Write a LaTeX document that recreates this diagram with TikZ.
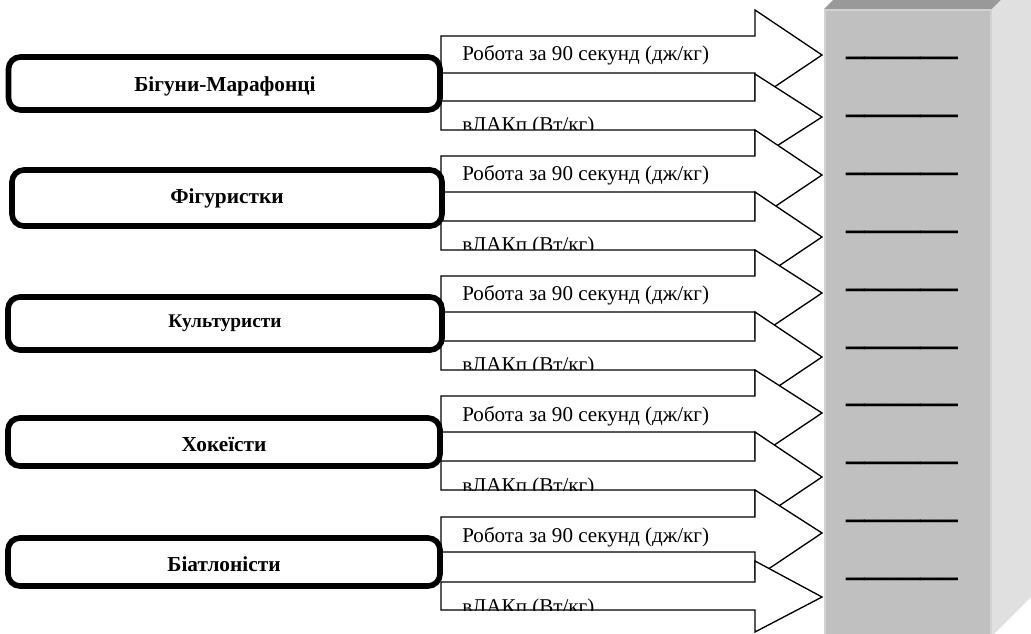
\documentclass[tikz,border=0pt]{standalone}
\usepackage{fontspec}
\setmainfont{Liberation Serif}
\tikzset{
  arrowshape/.style={draw=black, fill=white, line width=1pt, line join=miter},
  groupbox/.style={draw=black, fill=white, line width=4.2pt, rounded corners=9pt},
  grouplabel/.style={font=\fontsize{16}{19}\selectfont\bfseries, inner sep=0pt},
  arrowlabel/.style={font=\fontsize{15.8}{18}\selectfont, inner sep=0pt, anchor=base west},
  dashlabel/.style={font=\fontsize{28}{30}\selectfont\bfseries, inner sep=0pt, anchor=base west},
}
% #1 shaft top, #2 shaft bottom, #3 head top, #4 head bottom, #5 tip y, #6 text, #7 baseline offset, #8 name
\newcommand\blockarrow[8]{%
  \draw[arrowshape] (441,#1) -- (755,#1) -- (755,#3) -- (822,#5) -- (755,#4) -- (755,#2) -- (441,#2) -- cycle;
  \begin{scope}
    \clip (441,#1) rectangle (755,#2);
    \node[arrowlabel] (#8) at (462,#1+#7) {#6};
  \end{scope}
}
\begin{document}
\begin{tikzpicture}[x=0.75pt,y=-0.75pt]
\useasboundingbox (0,0) rectangle (1031,634);
% 3D bar
\fill[fill={rgb,255:red,192;green,192;blue,192}] (824,9) rectangle (992,634);
\fill[fill={rgb,255:red,153;green,153;blue,153}] (824,9) -- (864,-31) -- (1032,-31) -- (992,9) -- cycle;
\fill[fill={rgb,255:red,224;green,224;blue,224}] (992,9) -- (1032,-31) -- (1032,596) -- (994,634) -- (992,634) -- cycle;
\draw[draw={rgb,255:red,210;green,210;blue,210}, line width=1pt] (825,634) -- (825,10) -- (991,10) -- (991,634);
% dashes
\foreach \y [count=\i] in {58,116,174,232,290,348,405,463,521,579}
  \node[dashlabel] (dash\i) at (846,\y-3.7) {\_\_\_\_\_\_};
% arrows
\blockarrow{36}{73}{10}{100}{55}{Робота за 90 секунд (дж/кг)}{25}{r1}
\blockarrow{101}{130}{74}{160}{117}{вЛАКп (Вт/кг)}{31}{v1}
\blockarrow{156}{192}{130}{220}{175}{Робота за 90 секунд (дж/кг)}{25}{r2}
\blockarrow{221}{250}{192}{282}{237}{вЛАКп (Вт/кг)}{31}{v2}
\blockarrow{276}{312}{250}{338}{293}{Робота за 90 секунд (дж/кг)}{25}{r3}
\blockarrow{341}{370}{312}{402}{357}{вЛАКп (Вт/кг)}{31}{v3}
\blockarrow{396}{432}{370}{458}{413}{Робота за 90 секунд (дж/кг)}{25}{r4}
\blockarrow{461}{490}{432}{522}{477}{вЛАКп (Вт/кг)}{31}{v4}
\blockarrow{517}{552}{490}{578}{533}{Робота за 90 секунд (дж/кг)}{25}{r5}
\blockarrow{582}{610}{561}{632}{597}{вЛАКп (Вт/кг)}{31}{v5}
% group boxes
\draw[groupbox] (8.5,57) rectangle (440,110);
\node[grouplabel] (g1) at (225,86) {Бігуни-Марафонці};
\draw[groupbox] (12,170) rectangle (442,226);
\node[grouplabel] (g2) at (227,198) {Фігуристки};
\draw[groupbox] (8,297) rectangle (442,350);
\node[grouplabel, font=\fontsize{14.5}{17}\selectfont\bfseries] (g3) at (225,323) {Культуристи};
\draw[groupbox] (8,418) rectangle (440,466);
\node[grouplabel] (g4) at (224,444) {Хокеїсти};
\draw[groupbox] (8,538) rectangle (440,586);
\node[grouplabel] (g5) at (224,564) {Біатлоністи};
\end{tikzpicture}
\end{document}
